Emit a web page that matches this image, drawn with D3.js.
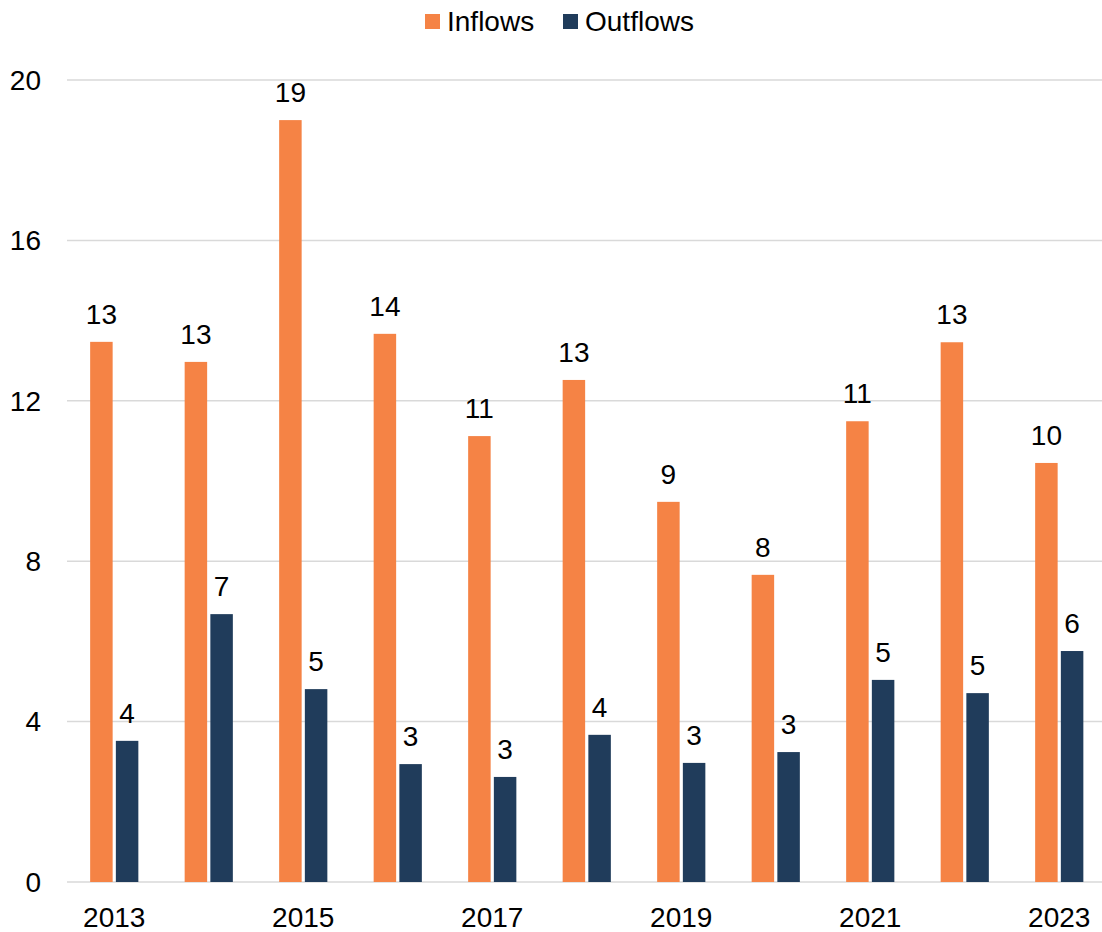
<!DOCTYPE html>
<html>
<head>
    <script src="https://d3js.org/d3.v7.min.js"></script>
    <style>
        body { margin: 0; background: #fff; }
        text { font-family: "Liberation Sans", Arial, sans-serif; fill: #000; }
    </style>
</head>
<body>
    <script>
        // data
        const years = ["2013", "2014", "2015", "2016", "2017", "2018", "2019", "2020", "2021", "2022", "2023"];
        const series = ["Inflows", "Outflows"];
        const inflows = [13.47, 12.97, 19.0, 13.67, 11.12, 12.52, 9.48, 7.66, 11.49, 13.46, 10.45];
        const outflows = [3.52, 6.68, 4.81, 2.94, 2.62, 3.67, 2.97, 3.24, 5.04, 4.71, 5.76];
        const yTicks = [0, 4, 8, 12, 16, 20];
        const xTickLabels = ["2013", "2015", "2017", "2019", "2021", "2023"];

        const width = 1102;
        const height = 932;
        const fontSize = 28;
        const colors = { Inflows: "#F58345", Outflows: "#203C5B" };

        const rows = years.map((y, i) => ({ year: y, Inflows: inflows[i], Outflows: outflows[i] }));

        const svg = d3.select("body").append("svg")
            .attr("width", width)
            .attr("height", height);

        // scales
        const x0 = d3.scaleBand()
            .domain(years)
            .range([67, 1106.5])
            .paddingInner(0.49)
            .paddingOuter(0.245);

        const x1 = d3.scaleBand()
            .domain(series)
            .range([0, x0.bandwidth()])
            .paddingInner(0.125);

        const y = d3.scaleLinear()
            .domain([0, 20])
            .range([882, 80]);

        // gridlines
        svg.append("g")
            .selectAll("line")
            .data(yTicks)
            .join("line")
            .attr("x1", 67)
            .attr("x2", width)
            .attr("y1", d => y(d))
            .attr("y2", d => y(d))
            .attr("stroke", "#d9d9d9")
            .attr("stroke-width", 1.5);

        // y axis labels
        svg.append("g")
            .selectAll("text")
            .data(yTicks)
            .join("text")
            .attr("x", 41)
            .attr("y", d => y(d))
            .attr("dy", "0.35em")
            .attr("text-anchor", "end")
            .attr("font-size", fontSize)
            .text(d => d);

        // bars
        const groups = svg.append("g")
            .selectAll("g")
            .data(rows)
            .join("g")
            .attr("transform", d => `translate(${x0(d.year)},0)`);

        groups.selectAll("rect")
            .data(d => series.map(s => ({ key: s, value: d[s] })))
            .join("rect")
            .attr("x", d => x1(d.key))
            .attr("width", x1.bandwidth())
            .attr("y", d => y(d.value))
            .attr("height", d => y(0) - y(d.value))
            .attr("fill", d => colors[d.key]);

        groups.selectAll("text")
            .data(d => series.map(s => ({ key: s, value: d[s] })))
            .join("text")
            .attr("x", d => x1(d.key) + x1.bandwidth() / 2)
            .attr("y", d => y(d.value) - 18)
            .attr("text-anchor", "middle")
            .attr("font-size", fontSize)
            .text(d => Math.round(d.value));

        // x axis labels
        svg.append("g")
            .selectAll("text")
            .data(xTickLabels)
            .join("text")
            .attr("x", d => x0(d) + x0.bandwidth() / 2)
            .attr("y", 927)
            .attr("text-anchor", "middle")
            .attr("font-size", fontSize)
            .text(d => d);

        // legend
        const legend = svg.append("g");
        const legendX = [425, 563];
        series.forEach((s, i) => {
            legend.append("rect")
                .attr("x", legendX[i])
                .attr("y", 14)
                .attr("width", 15)
                .attr("height", 15)
                .attr("fill", colors[s]);
            legend.append("text")
                .attr("x", legendX[i] + 22)
                .attr("y", 31)
                .attr("font-size", fontSize)
                .text(s);
        });
    </script>
</body>
</html>
